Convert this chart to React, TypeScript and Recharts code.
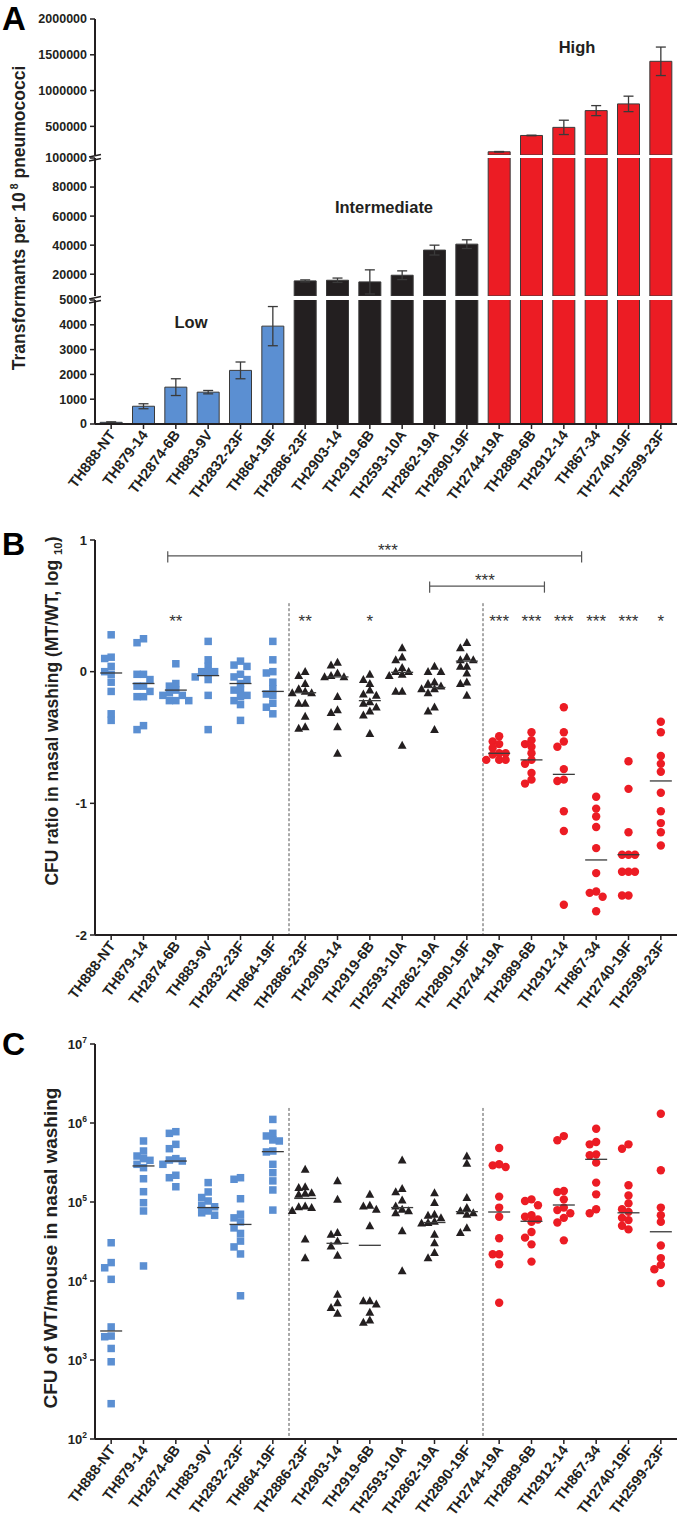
import React from "react";
import {
  BarChart,
  Bar,
  Cell,
  ErrorBar,
  XAxis,
  YAxis,
  ScatterChart,
  Scatter,
  ReferenceLine,
} from "recharts";

const FONT = '"Liberation Sans", Arial, Helvetica, sans-serif';
const INK = "#231f20";
const BLUE = "#5b8fd2";
const RED = "#ec1c24";

const strains = [
  "TH888-NT", "TH879-14", "TH2874-6B", "TH883-9V", "TH2832-23F", "TH864-19F",
  "TH2886-23F", "TH2903-14", "TH2919-6B", "TH2593-10A", "TH2862-19A", "TH2890-19F",
  "TH2744-19A", "TH2889-6B", "TH2912-14", "TH867-34", "TH2740-19F", "TH2599-23F",
];
const tier = [
  "low", "low", "low", "low", "low", "low",
  "mid", "mid", "mid", "mid", "mid", "mid",
  "high", "high", "high", "high", "high", "high",
];
const tierColor: Record<string, string> = { low: BLUE, mid: INK, high: RED };

// panel A: transformants per 10^8 pneumococci (mean, error)
const transformants = [
  68, 716, 1486, 1284, 2162, 3946,
  15400, 15850, 14700, 19300, 36600, 40700,
  145000, 373000, 486000, 720000, 814000, 1409000,
];
const transformantsErr = [
  20, 100, 338, 68, 338, 790,
  700, 1500, 8300, 3000, 3400, 3000,
  4000, 4000, 100000, 70000, 108000, 199000,
];

// panel B: CFU ratio MT/WT (log10), one list per strain
const ratioLog10 = [
  [0.28, 0.11, 0.1, 0.04, 0.0, -0.02, -0.08, -0.15, -0.32, -0.37],
  [0.25, 0.22, -0.02, -0.02, -0.06, -0.11, -0.11, -0.15, -0.19, -0.19, -0.41, -0.44],
  [0.06, -0.09, -0.11, -0.14, -0.16, -0.18, -0.18, -0.22, -0.22, -0.22],
  [0.23, 0.09, 0.04, 0.0, -0.01, 0.0, -0.04, -0.06, -0.18, -0.44],
  [0.08, 0.05, 0.04, -0.02, -0.04, -0.06, -0.09, -0.14, -0.14, -0.18, -0.22, -0.19, -0.25, -0.37],
  [0.23, 0.09, 0.0, -0.01, -0.08, -0.13, -0.18, -0.17, -0.24, -0.27, -0.32],
  [0.0, -0.03, -0.09, -0.13, -0.15, -0.16, -0.16, -0.24, -0.24, -0.34, -0.43, -0.42],
  [0.07, 0.05, -0.01, -0.03, -0.04, -0.04, -0.19, -0.29, -0.31, -0.42, -0.62],
  [-0.02, -0.06, -0.09, -0.14, -0.17, -0.18, -0.23, -0.24, -0.27, -0.3, -0.33, -0.47],
  [0.18, 0.11, 0.09, 0.03, 0.0, 0.0, -0.02, -0.03, -0.15, -0.15, -0.56],
  [0.04, 0.0, 0.0, -0.08, -0.09, -0.11, -0.13, -0.13, -0.16, -0.27, -0.3, -0.44],
  [0.22, 0.18, 0.11, 0.09, 0.09, 0.04, 0.04, -0.01, -0.08, -0.09, -0.18],
  [-0.49, -0.53, -0.55, -0.58, -0.62, -0.62, -0.63, -0.67, -0.67, -0.67],
  [-0.46, -0.52, -0.55, -0.57, -0.62, -0.67, -0.7, -0.77, -0.82, -0.85],
  [-0.27, -0.46, -0.53, -0.57, -0.74, -0.82, -0.83, -1.06, -1.21, -1.77],
  [-0.95, -1.04, -1.1, -1.18, -1.34, -1.53, -1.67, -1.68, -1.71, -1.82],
  [-0.68, -0.89, -1.22, -1.39, -1.39, -1.39, -1.52, -1.52, -1.52, -1.7, -1.7],
  [-0.38, -0.46, -0.64, -0.7, -0.76, -0.92, -1.06, -1.15, -1.22, -1.32],
];
const ratioMedian = [
  -0.01, -0.09, -0.14, -0.03, -0.09, -0.15, -0.16, -0.04, -0.22,
  -0.005, -0.12, 0.08, -0.62, -0.67, -0.78, -1.43, -1.39, -0.83,
];
const ratioStars = [
  "", "", "**", "", "", "", "**", "", "*", "", "", "",
  "***", "***", "***", "***", "***", "*",
];
const ratioBrackets = [
  { from: 1.75, to: 14.55, y: 0.88, label: "***", labelAt: 8.56 },
  { from: 9.85, to: 13.4, y: 0.65, label: "***", labelAt: 11.56 },
];

// panel C: CFU of WT per mouse in nasal washing
const wtCfu = [
  [30500, 17100, 14700, 10500, 2620, 2010, 1970, 1400, 950, 280],
  [592000, 442000, 382000, 354000, 337000, 300000, 272000, 197000, 135000, 98000, 77000, 15500],
  [776000, 740000, 537000, 473000, 354000, 340000, 330000, 300000, 218000, 203000, 156000],
  [176000, 134000, 114000, 103000, 91000, 87000, 77000, 73000, 68000],
  [203000, 194000, 110000, 70000, 63000, 56000, 47000, 40000, 32000, 27000, 22000, 6500],
  [1110000, 740000, 685000, 610000, 592000, 442000, 430000, 300000, 235000, 185000, 142000, 79000],
  [259000, 156000, 152000, 131000, 129000, 125000, 89000, 87000, 85000, 78000, 34000, 19700],
  [185000, 108000, 41000, 39000, 32000, 27700, 21100, 6800, 5300, 4600, 3900],
  [125000, 91000, 89000, 81000, 50000, 5600, 5600, 5100, 4000, 3200, 3000],
  [340000, 148000, 134000, 106000, 89000, 81000, 77000, 73000, 43000, 13400],
  [131000, 98000, 70000, 68000, 63000, 57000, 55000, 54000, 39000, 30500, 22800, 19700],
  [382000, 308000, 114000, 85000, 77000, 73000, 70000, 47000, 41000],
  [483000, 300000, 291000, 277000, 117000, 85000, 65000, 34700, 21800, 21800, 16300, 5300],
  [108000, 103000, 91000, 68000, 65000, 60000, 56000, 41700, 35400, 29100, 17600],
  [683000, 604000, 138000, 134000, 108000, 85000, 79000, 72000, 63000, 55000, 32700],
  [847000, 574000, 537000, 401000, 390000, 315000, 176000, 125000, 81000, 72000],
  [537000, 473000, 163000, 121000, 96000, 81000, 75000, 63000, 59000, 50000, 45000],
  [1310000, 252000, 85000, 68000, 56000, 28200, 19500, 16000, 14100, 9400],
];
const wtCfuMedian = [
  2330, 286000, 330000, 85000, 52000, 434000, 111000, 30000, 28300,
  85000, 55000, 75500, 74700, 57000, 91600, 347000, 73000, 42000,
];

const idx = strains.map((_, i) => i);

// simple beeswarm: overlapping points get pushed into side lanes (max 5 lanes)
const LANE = 0.2;
function swarm(vals: number[], pxPerUnit: number, log: boolean) {
  const order = vals.map((_, i) => i).sort((a, b) => vals[b] - vals[a]);
  const placed: { y: number; lane: number }[] = [];
  const lanes = new Array(vals.length).fill(0);
  for (const i of order) {
    const y = (log ? Math.log10(vals[i]) : vals[i]) * pxPerUnit;
    let best = 0;
    let bestGap = -1;
    for (const lane of [0, -1, 1, -2, 2]) {
      const gaps = placed.filter((p) => p.lane === lane).map((p) => Math.abs(p.y - y));
      const gap = gaps.length ? Math.min(...gaps) : Infinity;
      if (gap >= 6.5) {
        best = lane;
        bestGap = gap;
        break;
      }
      if (gap > bestGap) {
        best = lane;
        bestGap = gap;
      }
    }
    lanes[i] = best;
    placed.push({ y, lane: best });
  }
  return lanes;
}

function toPoints(groups: number[][], pxPerUnit: number, log: boolean) {
  const out: Record<string, { x: number; y: number }[]> = { low: [], mid: [], high: [] };
  groups.forEach((vals, k) => {
    const lanes = swarm(vals, pxPerUnit, log);
    vals.forEach((v, j) => out[tier[k]].push({ x: k + lanes[j] * LANE, y: v }));
  });
  return out;
}

const ratioPts = toPoints(ratioLog10, 131.7, false);
const cfuPts = toPoints(wtCfu, 78.8, true);

const segData = (lo: number, hi: number) =>
  strains.map((name, i) => {
    const v = transformants[i];
    return { name, v: v > lo ? v : null, e: v > lo && v <= hi ? transformantsErr[i] : null };
  });

const CatTick = (p: any) => {
  const { x, y, payload } = p;
  const name = typeof payload.value === "number" ? strains[payload.value] : payload.value;
  const ax = x + 5;
  const ay = y + 4;
  return (
    <text
      x={ax}
      y={ay}
      textAnchor="end"
      transform={`rotate(-53 ${ax} ${ay})`}
      fontFamily={FONT}
      fontWeight="bold"
      fontSize={14.5}
      fill={INK}
    >
      {name}
    </text>
  );
};

const ValTick = (p: any) => {
  const { x, y, payload, brk } = p;
  const ax = x + 8;
  return (
    <g>
      <text x={x} y={y} dy="0.355em" textAnchor="end" fontFamily={FONT} fontWeight="bold" fontSize={p.fs ?? 12.5} fill={INK}>
        {payload.value}
      </text>
      {brk && (
        <g stroke={INK} strokeWidth={1.4}>
          <line x1={ax - 6} y1={y - 1} x2={ax + 6} y2={y - 3.5} />
          <line x1={ax - 6} y1={y + 3} x2={ax + 6} y2={y + 0.5} />
        </g>
      )}
    </g>
  );
};

const PowTick = (p: any) => {
  const { x, y, payload } = p;
  const e = Math.round(Math.log10(payload.value));
  return (
    <text x={x} y={y} dy="0.355em" textAnchor="end" fontFamily={FONT} fontWeight="bold" fontSize={13} fill={INK}>
      10<tspan dy={-6} fontSize={8.5}>{e}</tspan>
    </text>
  );
};

const Square = (p: any) => <rect x={p.cx - 3.75} y={p.cy - 3.75} width={7.5} height={7.5} fill={BLUE} />;
const Tri = (p: any) => (
  <path d={`M${p.cx},${p.cy - 4.6} L${p.cx + 4.4},${p.cy + 3.4} L${p.cx - 4.4},${p.cy + 3.4} Z`} fill={INK} />
);
const Dot = (p: any) => <circle cx={p.cx} cy={p.cy} r={4.2} fill={RED} />;
const MedianLine = (p: any) => (
  <line x1={p.cx - 11} x2={p.cx + 11} y1={p.cy} y2={p.cy} stroke="#3a3a3a" strokeWidth={1.3} />
);
const StarText = (p: any) => (
  <text x={p.cx} y={p.cy} dy={9.5} textAnchor="middle" fontFamily={FONT} fontSize={17} fill="#333">
    {p.payload.s}
  </text>
);

const axisLine = { stroke: INK, strokeWidth: 2 };
const tickLine = { stroke: INK, strokeWidth: 1.5 };

const VLabel = ({ cx, cy, size, children }: any) => (
  <div
    style={{
      position: "absolute",
      left: cx,
      top: cy,
      transform: "translate(-50%, -50%) rotate(-90deg)",
      whiteSpace: "nowrap",
      fontFamily: FONT,
      fontWeight: "bold",
      fontSize: size,
      lineHeight: 1,
      color: INK,
    }}
  >
    {children}
  </div>
);

const Txt = ({ cx, cy, size, children }: any) => (
  <div
    style={{
      position: "absolute",
      left: cx,
      top: cy,
      transform: "translate(-50%, -50%)",
      whiteSpace: "nowrap",
      fontFamily: FONT,
      fontWeight: "bold",
      fontSize: size,
      lineHeight: 1,
      color: INK,
    }}
  >
    {children}
  </div>
);

const Letter = ({ top, size, children }: any) => (
  <div style={{ position: "absolute", left: 2, top, fontFamily: FONT, fontWeight: "bold", fontSize: size, lineHeight: 1.1, color: "#000" }}>
    {children}
  </div>
);

function BarSegment({ top, height, mt, lo, hi, ticks, brk, showX }: any) {
  const data = segData(lo, hi);
  return (
    <div style={{ position: "absolute", left: 0, top }}>
      <BarChart width={680} height={height} data={data} margin={{ top: mt, right: 3, left: 0, bottom: showX ? 0 : 5 }} barCategoryGap="16%">
        <XAxis
          dataKey="name"
          hide={!showX}
          interval={0}
          height={90}
          tick={CatTick}
          tickSize={5}
          axisLine={axisLine}
          tickLine={tickLine}
        />
        <YAxis
          type="number"
          domain={[lo < 0 ? 0 : lo, hi]}
          ticks={ticks}
          allowDataOverflow
          width={95}
          tickSize={5}
          tickMargin={3}
          axisLine={axisLine}
          tickLine={tickLine}
          tick={(p: any) => <ValTick {...p} brk={p.payload.value === brk} />}
        />
        <Bar dataKey="v" isAnimationActive={false} stroke="#3a3a3a" strokeWidth={1}>
          {data.map((_, i) => (
            <Cell key={i} fill={tierColor[tier[i]]} />
          ))}
          <ErrorBar dataKey="e" width={5} stroke="#3a3a3a" strokeWidth={1.3} direction="y" />
        </Bar>
      </BarChart>
    </div>
  );
}

function DotPanel({ top, pts, yAxis, medians, dashTop, children }: any) {
  const med = medians.map((m: number, k: number) => ({ x: k, y: m }));
  return (
    <div style={{ position: "absolute", left: 0, top }}>
      <ScatterChart width={680} height={485} margin={{ top: 10, right: 3, left: 0, bottom: 0 }}>
        <XAxis
          type="number"
          dataKey="x"
          domain={[-0.5, 17.5]}
          ticks={idx}
          interval={0}
          height={80}
          tick={CatTick}
          tickSize={5}
          axisLine={axisLine}
          tickLine={tickLine}
        />
        {yAxis}
        <ReferenceLine segment={[{ x: 5.5, y: dashTop }, { x: 5.5, y: yAxis.props.domain[0] }]} stroke="#555" strokeDasharray="3 2" strokeWidth={1} />
        <ReferenceLine segment={[{ x: 11.5, y: dashTop }, { x: 11.5, y: yAxis.props.domain[0] }]} stroke="#555" strokeDasharray="3 2" strokeWidth={1} />
        {children}
        <Scatter data={pts.low} shape={Square} isAnimationActive={false} />
        <Scatter data={pts.mid} shape={Tri} isAnimationActive={false} />
        <Scatter data={pts.high} shape={Dot} isAnimationActive={false} />
        <Scatter data={med} shape={MedianLine} isAnimationActive={false} />
      </ScatterChart>
    </div>
  );
}

export default function App() {
  const starData = ratioStars
    .map((s, k) => ({ x: k, y: 0.41, s }))
    .filter((d) => d.s);
  const bracketLabels = ratioBrackets.map((b) => ({ x: b.labelAt, y: b.y + 0.07, s: b.label }));

  return (
    <div style={{ position: "absolute", left: 0, top: 0, width: 680, height: 1517, background: "#fff", overflow: "hidden" }}>
      {/* A */}
      <BarSegment top={0} height={160} mt={19} lo={100000} hi={2000000} ticks={[500000, 1000000, 1500000, 2000000]} />
      <BarSegment top={148} height={153} mt={10} lo={5000} hi={100000} ticks={[20000, 40000, 60000, 80000, 100000]} brk={100000} />
      <BarSegment top={290} height={224} mt={10} lo={-1} hi={5000} ticks={[0, 1000, 2000, 3000, 4000, 5000]} brk={5000} showX />
      <Letter top={1} size={33}>A</Letter>
      <VLabel cx={19} cy={218} size={17.5}>
        Transformants per 10<sup style={{ fontSize: "0.6em", marginLeft: 3 }}>8</sup> pneumococci
      </VLabel>
      <Txt cx={191} cy={322} size={16.5}>Low</Txt>
      <Txt cx={384} cy={207} size={16.5}>Intermediate</Txt>
      <Txt cx={577} cy={47} size={16.5}>High</Txt>

      {/* B */}
      <DotPanel
        top={530}
        pts={ratioPts}
        medians={ratioMedian}
        dashTop={0.52}
        yAxis={
          <YAxis
            type="number"
            dataKey="y"
            domain={[-2, 1]}
            ticks={[-2, -1, 0, 1]}
            width={95}
            tickSize={5}
            tickMargin={3}
            axisLine={axisLine}
            tickLine={tickLine}
            tick={(p: any) => <ValTick {...p} fs={13} />}
          />
        }
      >
        {ratioBrackets.map((b, i) => (
          <ReferenceLine key={"h" + i} segment={[{ x: b.from, y: b.y }, { x: b.to, y: b.y }]} stroke="#555" strokeWidth={1.2} />
        ))}
        {ratioBrackets.map((b, i) => (
          <ReferenceLine key={"l" + i} segment={[{ x: b.from, y: b.y + 0.035 }, { x: b.from, y: b.y - 0.05 }]} stroke="#555" strokeWidth={1.2} />
        ))}
        {ratioBrackets.map((b, i) => (
          <ReferenceLine key={"r" + i} segment={[{ x: b.to, y: b.y + 0.035 }, { x: b.to, y: b.y - 0.05 }]} stroke="#555" strokeWidth={1.2} />
        ))}
        <Scatter data={bracketLabels} shape={StarText} isAnimationActive={false} />
        <Scatter data={starData} shape={StarText} isAnimationActive={false} />
      </DotPanel>
      <Letter top={527} size={32}>B</Letter>
      <VLabel cx={54} cy={711} size={17.5}>
        CFU ratio in nasal washing (MT/WT, log <sub style={{ fontSize: "0.65em" }}>10</sub>)
      </VLabel>

      {/* C */}
      <DotPanel
        top={1034}
        pts={cfuPts}
        medians={wtCfuMedian}
        dashTop={1550000}
        yAxis={
          <YAxis
            type="number"
            dataKey="y"
            scale="log"
            domain={[100, 10000000]}
            ticks={[100, 1000, 10000, 100000, 1000000, 10000000]}
            allowDataOverflow
            width={95}
            tickSize={5}
            tickMargin={3}
            axisLine={axisLine}
            tickLine={tickLine}
            tick={PowTick}
          />
        }
      />
      <Letter top={1027} size={32}>C</Letter>
      <VLabel cx={50} cy={1248} size={19}>
        CFU of WT/mouse in nasal washing
      </VLabel>
    </div>
  );
}
